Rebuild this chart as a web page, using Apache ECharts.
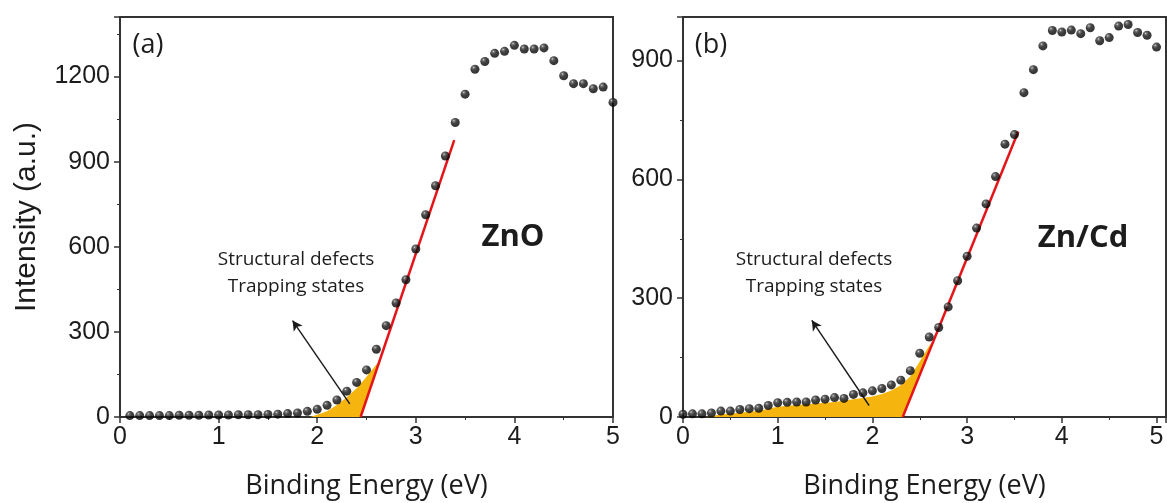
<!DOCTYPE html>
<html><head><meta charset="utf-8">
<script src="https://cdn.jsdelivr.net/npm/echarts@6/dist/echarts.min.js"></script>
<style>html,body{margin:0;padding:0;background:#fff}#c{width:1167px;height:503px}</style>
</head><body><div id="c"></div>
<script>
// ---------- data ----------
const energyA = [0.1,0.2,0.3,0.4,0.5,0.6,0.7,0.8,0.9,1.0,1.1,1.2,1.3,1.4,1.5,1.6,1.7,1.8,1.9,2.0,2.1,2.2,2.3,2.4,2.5,2.6,2.7,2.8,2.9,3.0,3.1,3.2,3.3,3.4,3.5,3.6,3.7,3.8,3.9,4.0,4.1,4.2,4.3,4.4,4.5,4.6,4.7,4.8,4.9,5.0];
const intensityA = [5,5,5,5,5,6,6,6,7,7,7,8,8,8,9,10,12,14,20,27,41,60,91,122,166,239,322,402,484,592,713,815,920,1038,1138,1226,1253,1282,1289,1310,1297,1297,1301,1256,1203,1175,1175,1157,1163,1109];
const energyB = [0.0,0.1,0.2,0.3,0.4,0.5,0.6,0.7,0.8,0.9,1.0,1.1,1.2,1.3,1.4,1.5,1.6,1.7,1.8,1.9,2.0,2.1,2.2,2.3,2.4,2.5,2.6,2.7,2.8,2.9,3.0,3.1,3.2,3.3,3.4,3.5,3.6,3.7,3.8,3.9,4.0,4.1,4.2,4.3,4.4,4.5,4.6,4.7,4.8,4.9,5.0];
const intensityB = [7,8,8,10,15,15,19,21,22,29,36,37,38,38,43,45,49,47,57,61,66,72,81,93,117,161,202,226,278,344,406,477,538,607,689,713,819,877,937,976,972,977,968,983,950,958,987,991,971,964,934];
const fitA = [[2.44,0],[3.39,976]];
const fitB = [[2.32,0],[3.54,721]];
const shadeA = [[1.93,0],[2.0,8],[2.1,20],[2.2,42],[2.3,70],[2.4,101],[2.5,142],[2.6,185],[2.63,195]];
const shadeB = [[0.25,0],[0.4,6],[0.6,11],[0.8,16],[1.0,26],[1.2,30],[1.4,34],[1.6,38],[1.8,45],[2.0,52],[2.1,58],[2.2,67],[2.3,80],[2.4,102],[2.5,140],[2.6,180],[2.64,193]];
const arrowA = [[2.33,46],[1.75,340]];
const arrowB = [[1.965,29],[1.36,244]];
const xTickLabels = ['0','1','2','3','4','5'];

// ---------- styles ----------
const ink = '#1c1c1c';
const frame = '#333';
const ball = {type:'radial', x:0.35, y:0.3, r:0.75, colorStops:[
  {offset:0,color:'#d8d8d8'},{offset:0.15,color:'#555'},{offset:0.45,color:'#111'},{offset:1,color:'#000'}]};
const shadeColor = '#F5B50E';

function pairs(xs, ys){ return xs.map((x,i)=>[x, ys[i]]); }
function shadePolygon(shade, fit){
  // last vertex sits on the fitted line
  const last = shade[shade.length-1];
  const slope = (fit[1][0]-fit[0][0])/(fit[1][1]-fit[0][1]);
  const pts = shade.slice(0,-1).concat([[fit[0][0]+last[1]*slope, last[1]]]);
  pts.push(fit[0]);
  return pts;
}
function shadeSeries(idx, poly){
  return {
    type:'custom', xAxisIndex:idx, yAxisIndex:idx, z:1, silent:true,
    data:[[poly[0][0], poly[0][1]]],
    renderItem:function(params, api){
      return {type:'polygon', shape:{points: poly.map(p=>api.coord(p))},
        style:{fill: shadeColor, stroke:null}};
    }
  };
}
function xAxis(idx, max){
  return {
    gridIndex:idx, type:'value', min:0, max:max, interval:1,
    name:'Binding Energy (eV)', nameLocation:'middle', nameGap:56,
    nameTextStyle:{fontFamily:'Open Sans', fontSize:27, color:ink},
    axisLine:{show:true, onZero:false, lineStyle:{color:frame, width:2}},
    axisTick:{show:true, inside:false, length:6, lineStyle:{color:frame, width:1.5}},
    minorTick:{show:true, splitNumber:2, length:3, lineStyle:{color:frame, width:1}},
    splitLine:{show:false},
    axisLabel:{fontFamily:'Liberation Sans', fontSize:25, color:ink, margin:8,
      formatter:v=> (Number.isInteger(v) ? xTickLabels[v] : '')}
  };
}
function yAxis(idx, max, withName){
  return {
    gridIndex:idx, type:'value', min:0, max:max, interval:300,
    name: withName ? 'Intensity (a.u.)' : '', nameLocation:'middle', nameGap:78,
    nameTextStyle:{fontFamily:'Liberation Sans', fontSize:30, color:ink},
    axisLine:{show:true, lineStyle:{color:frame, width:2}},
    axisTick:{show:true, inside:false, length:6, lineStyle:{color:frame, width:1.5}},
    minorTick:{show:true, splitNumber:2, length:3, lineStyle:{color:frame, width:1}},
    splitLine:{show:false},
    axisLabel:{fontFamily:'Liberation Sans', fontSize:25, color:ink, margin:10, showMaxLabel:false,
      formatter:v=> (v%300===0 ? String(v) : '')}
  };
}
function pointsSeries(idx, data){
  return {type:'scatter', xAxisIndex:idx, yAxisIndex:idx, z:5, data:data,
    symbol:'circle', symbolSize:9, itemStyle:{color:ball}, clip:true, silent:true};
}
function fitSeries(idx, fit, arrow){
  return {type:'line', xAxisIndex:idx, yAxisIndex:idx, z:3, data:fit, symbol:'none',
    lineStyle:{color:'#E3151A', width:2.5}, silent:true,
    markLine:{silent:true, symbol:['none','arrow'], symbolSize:[8,10],
      lineStyle:{color:'#1a1a1a', width:1.4, type:'solid'}, label:{show:false},
      data:[[{coord:arrow[0]},{coord:arrow[1]}]]}};
}
const txt = (x,y,text,size,weight,family,align)=>({type:'text', x:x, y:y, z:20,
  style:{text:text, fontSize:size, fontWeight:weight||'normal', fontFamily:family||'Open Sans',
    fill:ink, align:align||'center', verticalAlign:'middle', lineHeight:size*1.4}});

const chart = echarts.init(document.getElementById('c'), null, {renderer:'canvas'});
chart.setOption({
  animation:false,
  backgroundColor:'#fff',
  grid:[
    {left:120, right:554, top:17, bottom:86, show:true, borderColor:frame, borderWidth:2,
     containLabel:false, outerBoundsMode:'none'},
    {left:683, right:1, top:17, bottom:86, show:true, borderColor:frame, borderWidth:2,
     containLabel:false, outerBoundsMode:'none'}
  ],
  xAxis:[xAxis(0,5), xAxis(1,5.1)],
  yAxis:[yAxis(0,1410,true), yAxis(1,1010,false)],
  series:[
    shadeSeries(0, shadePolygon(shadeA, fitA)),
    shadeSeries(1, shadePolygon(shadeB, fitB)),
    fitSeries(0, fitA, arrowA),
    fitSeries(1, fitB, arrowB),
    pointsSeries(0, pairs(energyA, intensityA)),
    pointsSeries(1, pairs(energyB, intensityB))
  ],
  graphic:[
    txt(148,45,'(a)',27),
    txt(711,45,'(b)',27),
    txt(513,237,'ZnO',31,'bold'),
    txt(1083,238,'Zn/Cd',31,'bold'),
    txt(296,273,'Structural defects\nTrapping states',19),
    txt(814,273,'Structural defects\nTrapping states',19)
  ]
});
</script></body></html>
